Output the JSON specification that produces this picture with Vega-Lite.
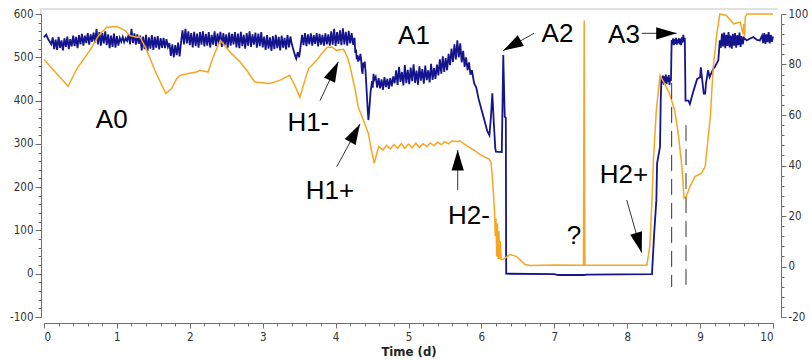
{
  "$schema": "https://vega.github.io/schema/vega-lite/v6.json",
  "width": 729,
  "height": 303,
  "autosize": {"type": "none"},
  "padding": {"left": 44, "top": 14, "right": 39, "bottom": 43},
  "background": "white",
  "config": {
    "view": {"stroke": null},
    "axis": {
      "labelFont": "DejaVu Sans Condensed, DejaVu Sans",
      "titleFont": "DejaVu Sans Condensed, DejaVu Sans",
      "labelColor": "#333333",
      "domainColor": "#6e6e6e",
      "tickColor": "#6e6e6e",
      "grid": false
    }
  },
  "datasets": {
    "blue": [
      {"d":0,"v":546},{"d":0.03,"v":552},{"d":0.06,"v":541},{"d":0.08,"v":536},{"d":0.1,"v":530},
      {"d":0.12,"v":546},{"d":0.14,"v":519},{"d":0.16,"v":541},{"d":0.18,"v":517},{"d":0.2,"v":547},{"d":0.22,"v":522},{"d":0.24,"v":539},{"d":0.26,"v":516},{"d":0.28,"v":544},{"d":0.3,"v":524},{"d":0.32,"v":548},{"d":0.34,"v":519},{"d":0.36,"v":542},{"d":0.38,"v":525},{"d":0.4,"v":550},
      {"d":0.42,"v":526},{"d":0.44,"v":547},{"d":0.46,"v":521},{"d":0.48,"v":551},{"d":0.5,"v":530},{"d":0.52,"v":554},{"d":0.54,"v":527},{"d":0.56,"v":550},{"d":0.58,"v":533},{"d":0.6,"v":556},{"d":0.62,"v":529},{"d":0.64,"v":553},{"d":0.66,"v":536},{"d":0.68,"v":557},{"d":0.7,"v":534},
      {"d":0.72,"v":565},{"d":0.74,"v":530},{"d":0.76,"v":558},{"d":0.78,"v":527},{"d":0.8,"v":556},{"d":0.82,"v":532},{"d":0.84,"v":560},{"d":0.86,"v":528},
      {"d":0.88,"v":553},{"d":0.9,"v":521},{"d":0.92,"v":550},{"d":0.94,"v":524},{"d":0.96,"v":555},{"d":0.98,"v":522},{"d":1.0,"v":549},{"d":1.02,"v":527},
      {"d":1.04,"v":545},{"d":1.06,"v":536},{"d":1.08,"v":547},{"d":1.1,"v":535},{"d":1.12,"v":544},{"d":1.14,"v":538},
      {"d":1.16,"v":552},{"d":1.18,"v":530},{"d":1.2,"v":566},{"d":1.22,"v":533},{"d":1.24,"v":555},{"d":1.26,"v":529},{"d":1.28,"v":553},{"d":1.3,"v":531},
      {"d":1.32,"v":550},{"d":1.34,"v":516},{"d":1.36,"v":548},{"d":1.38,"v":519},{"d":1.4,"v":552},{"d":1.42,"v":515},{"d":1.44,"v":546},{"d":1.46,"v":520},{"d":1.48,"v":551},{"d":1.5,"v":517},{"d":1.52,"v":547},{"d":1.54,"v":522},{"d":1.56,"v":549},{"d":1.58,"v":518},{"d":1.6,"v":544},
      {"d":1.62,"v":522},{"d":1.64,"v":545},{"d":1.66,"v":521},{"d":1.68,"v":542},{"d":1.7,"v":524},
      {"d":1.72,"v":533},{"d":1.74,"v":503},{"d":1.76,"v":530},{"d":1.78,"v":500},{"d":1.8,"v":528},{"d":1.82,"v":505},{"d":1.84,"v":534},{"d":1.86,"v":502},{"d":1.88,"v":535},
      {"d":1.9,"v":562},{"d":1.92,"v":530},{"d":1.94,"v":566},{"d":1.96,"v":532},{"d":1.98,"v":560},{"d":2.0,"v":528},
      {"d":2.02,"v":556},{"d":2.04,"v":523},{"d":2.06,"v":559},{"d":2.08,"v":526},{"d":2.1,"v":555},{"d":2.12,"v":522},{"d":2.14,"v":558},{"d":2.16,"v":529},{"d":2.18,"v":560},{"d":2.2,"v":525},{"d":2.22,"v":554},{"d":2.24,"v":527},{"d":2.26,"v":558},{"d":2.28,"v":523},{"d":2.3,"v":552},{"d":2.32,"v":529},{"d":2.34,"v":560},{"d":2.36,"v":526},{"d":2.38,"v":555},{"d":2.4,"v":531},{"d":2.42,"v":559},{"d":2.44,"v":524},{"d":2.46,"v":556},{"d":2.48,"v":528},{"d":2.5,"v":553},{"d":2.52,"v":522},{"d":2.54,"v":557},{"d":2.56,"v":527},{"d":2.58,"v":554},{"d":2.6,"v":530},
      {"d":2.62,"v":558},{"d":2.64,"v":523},{"d":2.66,"v":555},{"d":2.68,"v":521},{"d":2.7,"v":559},{"d":2.72,"v":526},{"d":2.74,"v":552},{"d":2.76,"v":520},{"d":2.78,"v":556},{"d":2.8,"v":527},{"d":2.82,"v":560},{"d":2.84,"v":524},{"d":2.86,"v":553},{"d":2.88,"v":529},{"d":2.9,"v":557},{"d":2.92,"v":522},{"d":2.94,"v":555},{"d":2.96,"v":526},{"d":2.98,"v":558},{"d":3.0,"v":523},
      {"d":3.02,"v":548},{"d":3.04,"v":517},{"d":3.06,"v":551},{"d":3.08,"v":520},{"d":3.1,"v":546},{"d":3.12,"v":515},{"d":3.14,"v":549},{"d":3.16,"v":519},{"d":3.18,"v":552},{"d":3.2,"v":521},{"d":3.22,"v":547},{"d":3.24,"v":516},{"d":3.26,"v":550},{"d":3.28,"v":522},{"d":3.3,"v":545},{"d":3.32,"v":518},{"d":3.34,"v":551},{"d":3.36,"v":523},{"d":3.38,"v":548},{"d":3.4,"v":530},
      {"d":3.42,"v":518},{"d":3.44,"v":506},{"d":3.46,"v":497},{"d":3.48,"v":512},{"d":3.5,"v":500},{"d":3.52,"v":526},
      {"d":3.54,"v":552},{"d":3.56,"v":528},{"d":3.58,"v":556},{"d":3.6,"v":526},{"d":3.62,"v":553},{"d":3.64,"v":530},{"d":3.66,"v":555},{"d":3.68,"v":527},{"d":3.7,"v":551},{"d":3.72,"v":531},{"d":3.74,"v":556},{"d":3.76,"v":525},{"d":3.78,"v":554},{"d":3.8,"v":529},{"d":3.82,"v":552},{"d":3.84,"v":527},{"d":3.86,"v":555},{"d":3.88,"v":530},{"d":3.9,"v":553},
      {"d":3.92,"v":527},{"d":3.94,"v":560},{"d":3.96,"v":529},{"d":3.98,"v":566},{"d":4.0,"v":526},{"d":4.02,"v":558},{"d":4.04,"v":531},{"d":4.06,"v":562},{"d":4.08,"v":528},{"d":4.1,"v":567},{"d":4.12,"v":530},{"d":4.14,"v":559},{"d":4.16,"v":527},{"d":4.18,"v":561},{"d":4.2,"v":532},{"d":4.22,"v":556},{"d":4.24,"v":529},{"d":4.26,"v":545},
      {"d":4.27,"v":510},{"d":4.28,"v":518},{"d":4.29,"v":495},{"d":4.3,"v":505},{"d":4.31,"v":490},{"d":4.32,"v":502},{"d":4.33,"v":493},{"d":4.34,"v":508},{"d":4.35,"v":496},{"d":4.36,"v":470},{"d":4.37,"v":462},{"d":4.38,"v":488},{"d":4.39,"v":476},{"d":4.4,"v":490},{"d":4.41,"v":470},{"d":4.42,"v":440},{"d":4.44,"v":380},{"d":4.45,"v":355},{"d":4.46,"v":375},{"d":4.48,"v":420},{"d":4.5,"v":445},{"d":4.51,"v":430},{"d":4.52,"v":462},{"d":4.53,"v":448},{"d":4.55,"v":455},
      {"d":4.57,"v":430},{"d":4.59,"v":452},{"d":4.61,"v":428},{"d":4.63,"v":449},{"d":4.65,"v":425},{"d":4.67,"v":454},{"d":4.69,"v":431},{"d":4.71,"v":450},{"d":4.73,"v":427},{"d":4.75,"v":452},{"d":4.77,"v":433},{"d":4.79,"v":456},
      {"d":4.81,"v":440},{"d":4.83,"v":470},{"d":4.85,"v":436},{"d":4.87,"v":478},{"d":4.89,"v":443},{"d":4.91,"v":466},{"d":4.93,"v":435},{"d":4.95,"v":482},{"d":4.97,"v":440},{"d":4.99,"v":471},{"d":5.01,"v":438},{"d":5.03,"v":476},{"d":5.05,"v":445},{"d":5.07,"v":484},{"d":5.09,"v":441},{"d":5.11,"v":469},{"d":5.13,"v":437},{"d":5.15,"v":479},{"d":5.17,"v":446},{"d":5.19,"v":473},{"d":5.21,"v":439},{"d":5.23,"v":481},{"d":5.25,"v":447},{"d":5.27,"v":470},{"d":5.29,"v":442},{"d":5.31,"v":485},{"d":5.33,"v":448},{"d":5.35,"v":475},{"d":5.37,"v":450},{"d":5.39,"v":483},
      {"d":5.41,"v":458},{"d":5.43,"v":495},{"d":5.45,"v":462},{"d":5.47,"v":502},{"d":5.49,"v":466},{"d":5.51,"v":498},{"d":5.53,"v":470},{"d":5.55,"v":508},
      {"d":5.57,"v":482},{"d":5.59,"v":520},{"d":5.61,"v":489},{"d":5.63,"v":530},{"d":5.65,"v":495},{"d":5.67,"v":539},{"d":5.69,"v":500},{"d":5.71,"v":532},{"d":5.73,"v":488},{"d":5.75,"v":515},
      {"d":5.77,"v":478},{"d":5.79,"v":500},{"d":5.81,"v":470},{"d":5.83,"v":488},{"d":5.85,"v":460},{"d":5.87,"v":470},{"d":5.9,"v":440},{"d":5.93,"v":430},{"d":5.96,"v":405},{"d":6.0,"v":380},{"d":6.04,"v":355},{"d":6.08,"v":330},{"d":6.11,"v":320},{"d":6.13,"v":360},{"d":6.15,"v":417},{"d":6.17,"v":350},{"d":6.19,"v":290},{"d":6.2,"v":282},{"d":6.28,"v":281},{"d":6.3,"v":505},{"d":6.32,"v":363},{"d":6.335,"v":360},{"d":6.34,"v":0},
      {"d":7.0,"v":-1},{"d":7.05,"v":-3},{"d":7.4,"v":-3},{"d":7.45,"v":-2},{"d":8.34,"v":-1},{"d":8.37,"v":93},{"d":8.4,"v":170},{"d":8.41,"v":255},{"d":8.45,"v":293},{"d":8.46,"v":401},{"d":8.47,"v":455},
      {"d":8.48,"v":440},{"d":8.49,"v":458},{"d":8.5,"v":437},{"d":8.51,"v":456},{"d":8.52,"v":441},{"d":8.53,"v":460},{"d":8.54,"v":438},{"d":8.55,"v":455},{"d":8.56,"v":443},{"d":8.57,"v":459},{"d":8.58,"v":436},{"d":8.59,"v":452},{"d":8.6,"v":445},{"d":8.61,"v":540},
      {"d":8.62,"v":530},{"d":8.63,"v":544},{"d":8.64,"v":528},{"d":8.65,"v":542},{"d":8.66,"v":531},{"d":8.67,"v":545},{"d":8.68,"v":529},{"d":8.69,"v":541},{"d":8.7,"v":533},{"d":8.71,"v":544},{"d":8.72,"v":530},{"d":8.73,"v":543},{"d":8.74,"v":528},{"d":8.75,"v":546},{"d":8.76,"v":534},{"d":8.77,"v":552},{"d":8.78,"v":536},{"d":8.79,"v":545},
      {"d":8.8,"v":400},{"d":8.84,"v":400},{"d":8.86,"v":392},{"d":8.91,"v":423},{"d":8.96,"v":450},{"d":9.0,"v":454},{"d":9.01,"v":477},{"d":9.05,"v":416},{"d":9.07,"v":416},{"d":9.08,"v":439},{"d":9.11,"v":470},{"d":9.13,"v":454},{"d":9.18,"v":473},{"d":9.2,"v":477},{"d":9.25,"v":493},{"d":9.27,"v":539},
      {"d":9.285,"v":522},{"d":9.3,"v":555},{"d":9.315,"v":525},{"d":9.33,"v":557},{"d":9.345,"v":521},{"d":9.36,"v":552},{"d":9.375,"v":526},{"d":9.39,"v":558},{"d":9.405,"v":523},{"d":9.42,"v":550},{"d":9.435,"v":520},{"d":9.45,"v":554},{"d":9.465,"v":527},{"d":9.48,"v":556},{"d":9.495,"v":522},{"d":9.51,"v":551},{"d":9.525,"v":528},{"d":9.54,"v":557},{"d":9.555,"v":524},{"d":9.57,"v":549},{"d":9.585,"v":530},{"d":9.6,"v":545},
      {"d":9.64,"v":539},{"d":9.68,"v":543},{"d":9.73,"v":547},{"d":9.78,"v":540},{"d":9.82,"v":539},{"d":9.85,"v":550},{"d":9.865,"v":533},{"d":9.88,"v":556},{"d":9.895,"v":531},{"d":9.91,"v":553},{"d":9.925,"v":535},{"d":9.94,"v":558},{"d":9.955,"v":532},{"d":9.97,"v":552},{"d":9.985,"v":536},{"d":10.0,"v":548}
    ],
    "orange": [
      {"d":0,"r":82},{"d":0.33,"r":71.4},{"d":0.45,"r":78.3},{"d":0.63,"r":85.6},{"d":0.75,"r":91.5},{"d":0.86,"r":94.8},{"d":1.0,"r":95},{"d":1.11,"r":93.5},{"d":1.18,"r":91.5},{"d":1.27,"r":90.8},{"d":1.32,"r":90.8},{"d":1.41,"r":85.6},{"d":1.52,"r":77.7},{"d":1.67,"r":68.5},{"d":1.75,"r":70.5},{"d":1.82,"r":74.4},{"d":1.87,"r":75.7},{"d":1.98,"r":76.4},{"d":2.09,"r":77},{"d":2.14,"r":77.7},{"d":2.25,"r":77},{"d":2.32,"r":83},{"d":2.42,"r":89.5},{"d":2.55,"r":85},{"d":2.69,"r":81},{"d":2.78,"r":77.7},{"d":2.89,"r":73.1},{"d":3.1,"r":72.5},{"d":3.24,"r":73.8},{"d":3.37,"r":75.7},{"d":3.44,"r":71.8},{"d":3.51,"r":66.9},{"d":3.58,"r":73.8},{"d":3.63,"r":78.4},{"d":3.74,"r":81.7},{"d":3.81,"r":84.3},{"d":3.88,"r":86.7},{"d":3.95,"r":86.9},{"d":4.01,"r":85.6},{"d":4.11,"r":86},{"d":4.16,"r":83},{"d":4.2,"r":79},{"d":4.27,"r":69.8},{"d":4.31,"r":63.2},{"d":4.38,"r":58},{"d":4.45,"r":52.7},{"d":4.49,"r":46.2},{"d":4.53,"r":40.9},{"d":4.59,"r":47.5},
      {"d":4.65,"r":46.2},{"d":4.7,"r":48},{"d":4.75,"r":46.5},{"d":4.8,"r":48.3},{"d":4.85,"r":46.8},{"d":4.9,"r":48.6},{"d":4.95,"r":46.8},{"d":5.0,"r":48.5},{"d":5.05,"r":47},{"d":5.1,"r":48.8},{"d":5.15,"r":47.2},{"d":5.2,"r":48.6},{"d":5.25,"r":47.5},{"d":5.3,"r":48.9},{"d":5.35,"r":47.8},{"d":5.4,"r":49.2},{"d":5.45,"r":48.3},{"d":5.5,"r":49.4},{"d":5.55,"r":48.6},{"d":5.6,"r":49.8},{"d":5.66,"r":49.4},{"d":5.7,"r":49.8},{"d":5.75,"r":48.8},{"d":5.82,"r":47.5},{"d":5.89,"r":46.2},{"d":5.96,"r":44.8},{"d":6.03,"r":43.5},{"d":6.1,"r":42.6},{"d":6.13,"r":41.5},{"d":6.15,"r":35.6},{"d":6.18,"r":22},{"d":6.19,"r":12},{"d":6.2,"r":19},{"d":6.21,"r":4},{"d":6.22,"r":17},{"d":6.23,"r":3},{"d":6.24,"r":14},{"d":6.25,"r":3},{"d":6.26,"r":10},{"d":6.27,"r":2.8},{"d":6.3,"r":2.8},{"d":6.39,"r":4.7},{"d":6.48,"r":4},{"d":6.6,"r":0.8},{"d":6.67,"r":0.4},{"d":7.0,"r":0.6},{"d":7.38,"r":0.5},{"d":7.4,"r":0.5},{"d":7.41,"r":97.4},{"d":7.42,"r":0.5},{"d":7.8,"r":0.5},{"d":8.27,"r":0.5},{"d":8.31,"r":8},{"d":8.34,"r":26.4},{"d":8.36,"r":42.2},{"d":8.4,"r":62},{"d":8.45,"r":75.7},{"d":8.51,"r":72.5},{"d":8.58,"r":68.5},{"d":8.65,"r":62},{"d":8.7,"r":52.7},{"d":8.75,"r":39.6},{"d":8.78,"r":27.1},{"d":8.81,"r":27.7},{"d":8.86,"r":31.7},{"d":8.93,"r":35.6},{"d":9.02,"r":37},{"d":9.07,"r":39.6},{"d":9.14,"r":59.3},{"d":9.18,"r":79},{"d":9.23,"r":92.2},{"d":9.27,"r":100},{"d":9.36,"r":99.4},{"d":9.46,"r":96.1},{"d":9.55,"r":96.8},{"d":9.59,"r":92.2},{"d":9.6,"r":96},{"d":9.61,"r":91},{"d":9.62,"r":98.7},{"d":9.64,"r":100},{"d":10,"r":100}
    ],
    "arrows": [
      {"x1":6.722,"y1":555.4,"x2":6.296,"y2":515.2,"a":240.5},
      {"x1":8.199,"y1":555.4,"x2":8.679,"y2":555.4,"a":90},
      {"x1":3.786,"y1":399.5,"x2":4.037,"y2":489.8,"a":25.5},
      {"x1":4.016,"y1":247.2,"x2":4.335,"y2":345.9,"a":28.6},
      {"x1":5.675,"y1":193.4,"x2":5.675,"y2":285.8,"a":0},
      {"x1":7.993,"y1":170.3,"x2":8.199,"y2":48.6,"a":164.1}
    ],
    "labels": [
      {"d":0.929,"v":355,"t":"A0"},
      {"d":3.626,"v":349,"t":"H1-"},
      {"d":3.923,"v":190,"t":"H1+"},
      {"d":5.075,"v":550,"t":"A1"},
      {"d":7.044,"v":554,"t":"A2"},
      {"d":5.83,"v":134,"t":"H2-"},
      {"d":7.27,"v":88,"t":"?"},
      {"d":7.956,"v":228,"t":"H2+"},
      {"d":7.956,"v":552,"t":"A3"}
    ],
    "frame": [
      {"x1":-0.045,"x2":10.07,"y1":611.6,"y2":611.6},
      {"x1":-0.045,"x2":-0.045,"y1":600,"y2":611.6}
    ],
    "dashes": [
      {"d":8.61,"r1":72.7,"r2":-8.1},
      {"d":8.807,"r1":56,"r2":-7.3}
    ],
    "dummyL": [{"d":0,"v":0}],
    "dummyR": [{"d":0,"r":0}]
  },
  "layer": [
    {
      "layer": [
        {
          "data": {"name": "frame"},
          "mark": {"type": "rule", "color": "#c4c4c4", "strokeWidth": 1},
          "encoding": {
            "x": {"field": "x1", "type": "quantitative", "scale": {"domain": [0, 10], "nice": false}, "axis": null},
            "x2": {"field": "x2"},
            "y": {"field": "y1", "type": "quantitative", "scale": {"domain": [-100, 600], "nice": false, "zero": false}, "axis": null},
            "y2": {"field": "y2"}
          }
        },
        {
          "data": {"name": "blue"},
          "mark": {"type": "line", "color": "#14148c", "strokeWidth": 1.8},
          "encoding": {
            "x": {"field": "d", "type": "quantitative", "axis": null},
            "y": {"field": "v", "type": "quantitative", "axis": null}
          }
        },
        {
          "data": {"name": "arrows"},
          "mark": {"type": "rule", "color": "#333333", "strokeWidth": 1},
          "encoding": {
            "x": {"field": "x1", "type": "quantitative", "axis": null},
            "x2": {"field": "x2"},
            "y": {"field": "y1", "type": "quantitative", "axis": null},
            "y2": {"field": "y2"}
          }
        },
        {
          "data": {"name": "arrows"},
          "mark": {"type": "point", "shape": "M0,0L0.6,2L-0.6,2Z", "filled": true, "color": "#000000", "size": 420, "opacity": 1, "strokeWidth": 0},
          "encoding": {
            "x": {"field": "x2", "type": "quantitative", "axis": null},
            "y": {"field": "y2", "type": "quantitative", "axis": null},
            "angle": {"field": "a", "type": "quantitative", "scale": null}
          }
        },
        {
          "data": {"name": "labels"},
          "mark": {"type": "text", "font": "Liberation Sans", "fontSize": 26, "color": "#000000", "align": "center", "baseline": "middle"},
          "encoding": {
            "x": {"field": "d", "type": "quantitative", "axis": null},
            "y": {"field": "v", "type": "quantitative", "axis": null},
            "text": {"field": "t"}
          }
        }
      ]
    },
    {
      "data": {"name": "dummyL"},
      "mark": {"type": "point", "opacity": 0},
      "encoding": {
        "x": {
          "field": "d", "type": "quantitative",
          "scale": {"domain": [0, 10], "nice": false},
          "axis": {
            "orient": "bottom", "offset": 6,
            "values": [0,1,2,3,4,5,6,7,8,9,10],
            "labelExpr": "'' + datum.value",
            "tickSize": 5, "labelPadding": 3, "labelFontSize": 11.5,
            "title": "Time (d)", "titleFontSize": 13, "titleFontWeight": "bold",
            "titleColor": "#222222", "titlePadding": 3
          }
        },
        "y": {
          "field": "v", "type": "quantitative",
          "scale": {"domain": [-100, 600], "nice": false, "zero": false},
          "axis": {
            "orient": "left", "offset": 3,
            "values": [-100,0,100,200,300,400,500,600],
            "labelExpr": "'' + datum.value",
            "tickSize": 6, "labelPadding": 2, "labelFontSize": 11.5,
            "title": null
          }
        }
      }
    },
    {
      "data": {"name": "dummyL"},
      "mark": {"type": "point", "opacity": 0},
      "encoding": {
        "x": {
          "field": "d", "type": "quantitative",
          "scale": {"domain": [0, 10], "nice": false},
          "axis": {
            "orient": "bottom", "offset": 6, "labels": false, "domain": false, "title": null, "tickSize": 3,
            "values": [0,0.2,0.4,0.6,0.8,1,1.2,1.4,1.6,1.8,2,2.2,2.4,2.6,2.8,3,3.2,3.4,3.6,3.8,4,4.2,4.4,4.6,4.8,5,5.2,5.4,5.6,5.8,6,6.2,6.4,6.6,6.8,7,7.2,7.4,7.6,7.8,8,8.2,8.4,8.6,8.8,9,9.2,9.4,9.6,9.8,10]
          }
        },
        "y": {
          "field": "v", "type": "quantitative",
          "scale": {"domain": [-100, 600], "nice": false, "zero": false},
          "axis": {
            "orient": "left", "offset": 3, "labels": false, "domain": false, "title": null, "tickSize": 3,
            "values": [-100,-80,-60,-40,-20,0,20,40,60,80,100,120,140,160,180,200,220,240,260,280,300,320,340,360,380,400,420,440,460,480,500,520,540,560,580,600]
          }
        }
      }
    },
    {
      "layer": [
        {
          "data": {"name": "orange"},
          "mark": {"type": "line", "color": "#f5a623", "strokeWidth": 1.5},
          "encoding": {
            "x": {"field": "d", "type": "quantitative", "scale": {"domain": [0, 10], "nice": false}, "axis": null},
            "y": {"field": "r", "type": "quantitative", "scale": {"domain": [-20, 100], "nice": false, "zero": false}, "axis": null}
          }
        },
        {
          "data": {"name": "dashes"},
          "mark": {"type": "rule", "color": "#333333", "strokeWidth": 1, "strokeDash": [16, 8]},
          "encoding": {
            "x": {"field": "d", "type": "quantitative", "axis": null},
            "y": {"field": "r1", "type": "quantitative", "axis": null},
            "y2": {"field": "r2"}
          }
        }
      ]
    },
    {
      "data": {"name": "dummyR"},
      "mark": {"type": "point", "opacity": 0},
      "encoding": {
        "x": {"field": "d", "type": "quantitative", "scale": {"domain": [0, 10], "nice": false}, "axis": null},
        "y": {
          "field": "r", "type": "quantitative",
          "scale": {"domain": [-20, 100], "nice": false, "zero": false},
          "axis": {
            "orient": "right", "offset": 8,
            "values": [-20,0,20,40,60,80,100],
            "labelExpr": "'' + datum.value",
            "tickSize": 5, "labelPadding": 2, "labelFontSize": 11.5,
            "title": null
          }
        }
      }
    },
    {
      "data": {"name": "dummyR"},
      "mark": {"type": "point", "opacity": 0},
      "encoding": {
        "x": {"field": "d", "type": "quantitative", "scale": {"domain": [0, 10], "nice": false}, "axis": null},
        "y": {
          "field": "r", "type": "quantitative",
          "scale": {"domain": [-20, 100], "nice": false, "zero": false},
          "axis": {
            "orient": "right", "offset": 8, "labels": false, "domain": false, "title": null, "tickSize": 3,
            "values": [-20,-16,-12,-8,-4,0,4,8,12,16,20,24,28,32,36,40,44,48,52,56,60,64,68,72,76,80,84,88,92,96,100]
          }
        }
      }
    }
  ],
  "resolve": {
    "scale": {"y": "independent"},
    "axis": {"y": "independent", "x": "independent"}
  }
}
